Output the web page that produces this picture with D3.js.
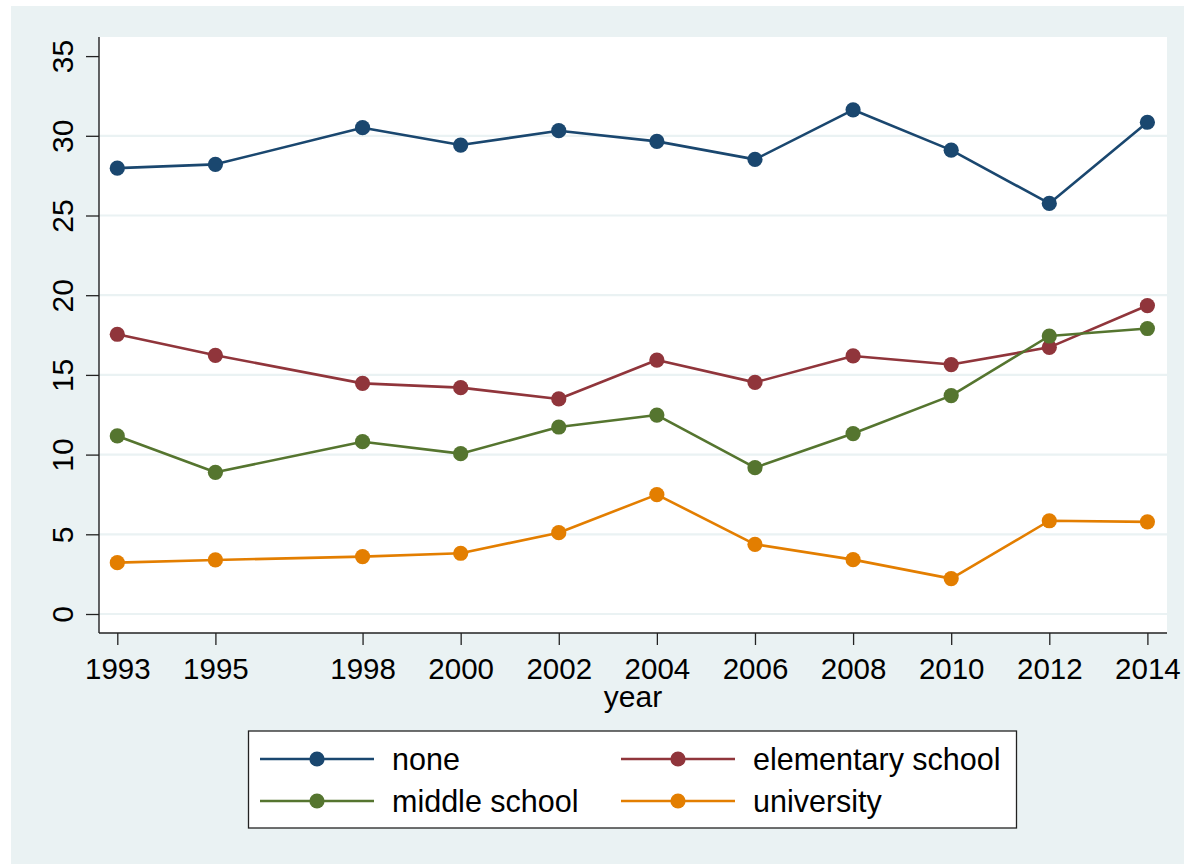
<!DOCTYPE html>
<html>
<head>
<meta charset="utf-8">
<script src="https://cdn.jsdelivr.net/npm/d3@7"></script>
<style>
  html, body { margin: 0; padding: 0; background: #ffffff; }
  svg { display: block; }
  text { font-family: "Liberation Sans", Arial, Helvetica, sans-serif; fill: #000; }
</style>
</head>
<body>
<svg id="chart" width="1184" height="864"></svg>
<script>
// Survey years and shares by education level
const years = [1993, 1995, 1998, 2000, 2002, 2004, 2006, 2008, 2010, 2012, 2014];
const noneVals = [27.97, 28.21, 30.51, 29.42, 30.32, 29.65, 28.52, 31.63, 29.10, 25.76, 30.85];
const elementaryVals = [17.55, 16.23, 14.47, 14.20, 13.49, 15.93, 14.53, 16.19, 15.65, 16.73, 19.35];
const middleVals = [11.17, 8.89, 10.81, 10.06, 11.73, 12.48, 9.18, 11.32, 13.70, 17.44, 17.91];
const universityVals = [3.22, 3.39, 3.60, 3.81, 5.10, 7.49, 4.37, 3.41, 2.22, 5.85, 5.78];
const seriesNames = ["none", "elementary school", "middle school", "university"];
const seriesColors = ["#1a476f", "#90353b", "#55752f", "#e37e00"];
const yTicks = [0, 5, 10, 15, 20, 25, 30, 35];
const gridTicks = [0, 5, 10, 15, 20, 25, 30];
const xLabel = "year";

const series = [noneVals, elementaryVals, middleVals, universityVals].map((vals, i) => ({
  name: seriesNames[i],
  color: seriesColors[i],
  points: years.map((yr, j) => ({ year: yr, value: vals[j] }))
}));

const svg = d3.select("#chart");

// Graph region background
svg.append("rect").attr("x", 11).attr("y", 6).attr("width", 1173).attr("height", 858)
  .attr("fill", "#eaf2f3");

// Plot region
const plot = { left: 99, right: 1167, top: 37, bottom: 633 };
svg.append("rect")
  .attr("x", plot.left).attr("y", plot.top)
  .attr("width", plot.right - plot.left).attr("height", plot.bottom - plot.top)
  .attr("fill", "#ffffff");

const x = d3.scaleLinear().domain([1993, 2014]).range([117.3, 1147.4]);
const y = d3.scaleLinear().domain([0, 35]).range([614, 56.1]);

// Horizontal grid lines
svg.append("g").selectAll("line").data(gridTicks).join("line")
  .attr("x1", plot.left).attr("x2", plot.right)
  .attr("y1", d => y(d)).attr("y2", d => y(d))
  .attr("stroke", "#eaf2f3").attr("stroke-width", 2.2);

// Y axis
const yAxis = svg.append("g").attr("transform", `translate(${plot.left},0)`)
  .call(d3.axisLeft(y).tickValues(yTicks).tickSize(13).tickPadding(0).tickFormat(d3.format("d")));
yAxis.select(".domain").attr("d", `M0,${plot.top}V${plot.bottom}`)
  .attr("stroke", "#222").attr("stroke-width", 1.4);
yAxis.selectAll(".tick line").attr("stroke", "#222").attr("stroke-width", 1.3);
yAxis.selectAll(".tick text")
  .attr("x", 0).attr("y", 0).attr("dy", null)
  .attr("transform", "translate(-26,0) rotate(-90)")
  .attr("text-anchor", "middle")
  .style("font-size", "30px")
  .style("fill", "#000");

// X axis
const xAxis = svg.append("g").attr("transform", `translate(0,${plot.bottom})`)
  .call(d3.axisBottom(x).tickValues(years).tickSize(12).tickPadding(0).tickFormat(d3.format("d")));
xAxis.select(".domain").attr("d", `M${plot.left},0H${plot.right}`)
  .attr("stroke", "#222").attr("stroke-width", 1.4);
xAxis.selectAll(".tick line").attr("stroke", "#222").attr("stroke-width", 1.3);
xAxis.selectAll(".tick text")
  .attr("y", 46).attr("dy", null)
  .attr("text-anchor", "middle")
  .style("font-size", "29.5px")
  .style("fill", "#000");

svg.append("text").attr("x", (plot.left + plot.right) / 2).attr("y", 707)
  .attr("text-anchor", "middle").style("font-size", "30px").text(xLabel);

// Series lines and markers
const line = d3.line().x(d => x(d.year)).y(d => y(d.value));
const sg = svg.append("g").selectAll("g").data(series).join("g");
sg.append("path")
  .attr("d", d => line(d.points))
  .attr("fill", "none").attr("stroke", d => d.color)
  .attr("stroke-width", 2.6).attr("stroke-linejoin", "round");
sg.each(function (s) {
  d3.select(this).selectAll("circle").data(s.points).join("circle")
    .attr("cx", d => x(d.year)).attr("cy", d => y(d.value))
    .attr("r", 7.6).attr("fill", s.color);
});

// Legend
const legend = svg.append("g");
legend.append("rect").attr("x", 248.5).attr("y", 731).attr("width", 768).attr("height", 97)
  .attr("fill", "#ffffff").attr("stroke", "#222").attr("stroke-width", 1.3);
const colX = [260, 621];
const rowY = [759, 801];
series.forEach((s, i) => {
  const cx = colX[i % 2];
  const cy = rowY[Math.floor(i / 2)];
  legend.append("line").attr("x1", cx).attr("x2", cx + 114).attr("y1", cy).attr("y2", cy)
    .attr("stroke", s.color).attr("stroke-width", 2.6);
  legend.append("circle").attr("cx", cx + 57).attr("cy", cy).attr("r", 7.6).attr("fill", s.color);
  legend.append("text").attr("x", cx + 132).attr("y", cy + 11)
    .style("font-size", "30.5px").text(s.name);
});
</script>
</body>
</html>
